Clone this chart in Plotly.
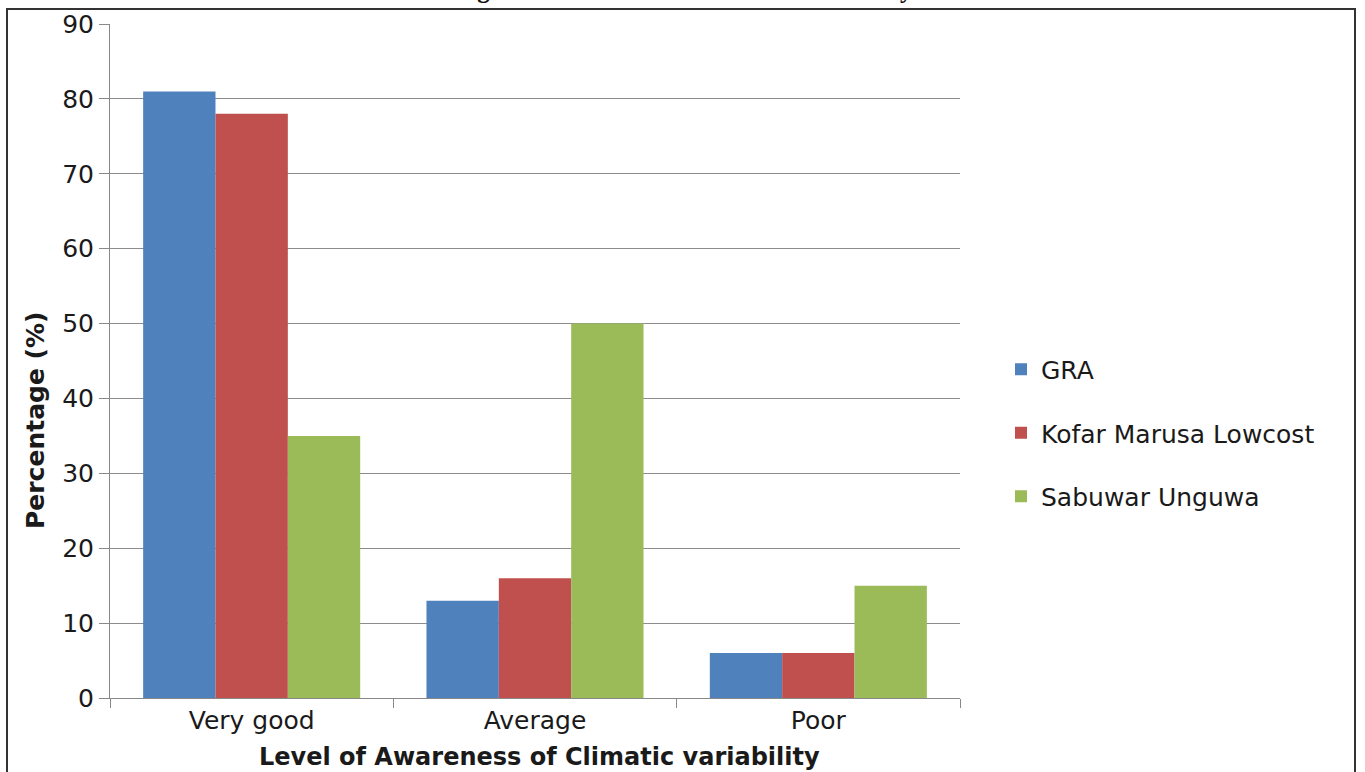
import plotly.graph_objects as go

categories = ["Very good", "Average", "Poor"]
series_names = ["GRA", "Kofar Marusa Lowcost", "Sabuwar Unguwa"]
gra = [81, 13, 6]
kofar = [78, 16, 6]
sabuwar = [35, 50, 15]
y_ticks = [0, 10, 20, 30, 40, 50, 60, 70, 80, 90]
colors = ["#4F81BD", "#C0504D", "#9BBB59"]

W, H = 1365, 772
ML, MR, MT, MB = 110, W - 960, 24, H - 698
PW, PH = W - ML - MR, H - MT - MB

def px_x(p):
    return (p - ML) / PW

def px_y(p):
    return (H - MB - p) / PH

font_family = "DejaVu Sans, sans-serif"

fig = go.Figure()
for i, (name, vals) in enumerate(zip(series_names, [gra, kofar, sabuwar])):
    fig.add_trace(go.Bar(
        x=categories, y=vals, name=name,
        marker=dict(color=colors[i], line=dict(width=0)),
        legendgroup=name,
    ))

fig.update_layout(
    width=W, height=H,
    margin=dict(l=ML, r=MR, t=MT, b=MB, pad=0, autoexpand=False),
    paper_bgcolor="white", plot_bgcolor="white",
    barmode="group", bargap=0.234, bargroupgap=0,
    font=dict(family=font_family, size=25, color="#1a1a1a"),
    showlegend=True,
    legend=dict(
        x=px_x(1001), xanchor="left",
        y=px_y(433), yanchor="middle",
        font=dict(size=25, color="#1a1a1a"),
        traceorder="grouped", tracegroupgap=28,
        bgcolor="rgba(0,0,0,0)",
    ),
    xaxis=dict(
        type="category", automargin=False,
        showline=True, linecolor="#888888", linewidth=1,
        ticks="outside", tickson="boundaries", ticklen=9, tickcolor="#888888",
        tickfont=dict(size=25, color="#1a1a1a"),
        showgrid=False,
    ),
    yaxis=dict(
        range=[0, 90], automargin=False,
        tickvals=y_ticks,
        showline=True, linecolor="#888888", linewidth=1,
        ticks="outside", ticklen=10, tickcolor="#888888",
        tickfont=dict(size=25, color="#1a1a1a"),
        showgrid=True, gridcolor="#8c8c8c", gridwidth=1,
        zeroline=False,
    ),
    shapes=[
        dict(type="rect", xref="paper", yref="paper",
             x0=px_x(7), x1=px_x(1355), y0=px_y(800), y1=px_y(9),
             line=dict(color="#333333", width=2), fillcolor="rgba(0,0,0,0)",
             layer="above"),
    ],
    annotations=[
        dict(text="<b>Percentage (%)</b>", xref="paper", yref="paper",
             x=px_x(35), y=px_y(421), xanchor="center", yanchor="middle",
             textangle=-90, showarrow=False,
             font=dict(size=25, color="#1a1a1a", family=font_family)),
        dict(text="<b>Level of Awareness of Climatic variability</b>", xref="paper", yref="paper",
             x=px_x(539), y=px_y(757), xanchor="center", yanchor="middle",
             showarrow=False,
             font=dict(size=24, color="#1a1a1a", family=font_family)),
        dict(text="<b>Figure 5: Awareness of Climatic variability</b>", xref="paper", yref="paper",
             x=px_x(684), y=px_y(-10), xanchor="center", yanchor="middle",
             showarrow=False,
             font=dict(size=25, color="#111111", family="Liberation Serif, serif")),
    ],
)

fig.write_html("out.html", config={"displayModeBar": False},
               post_script="document.body.style.margin='0';document.body.style.overflow='hidden';")
